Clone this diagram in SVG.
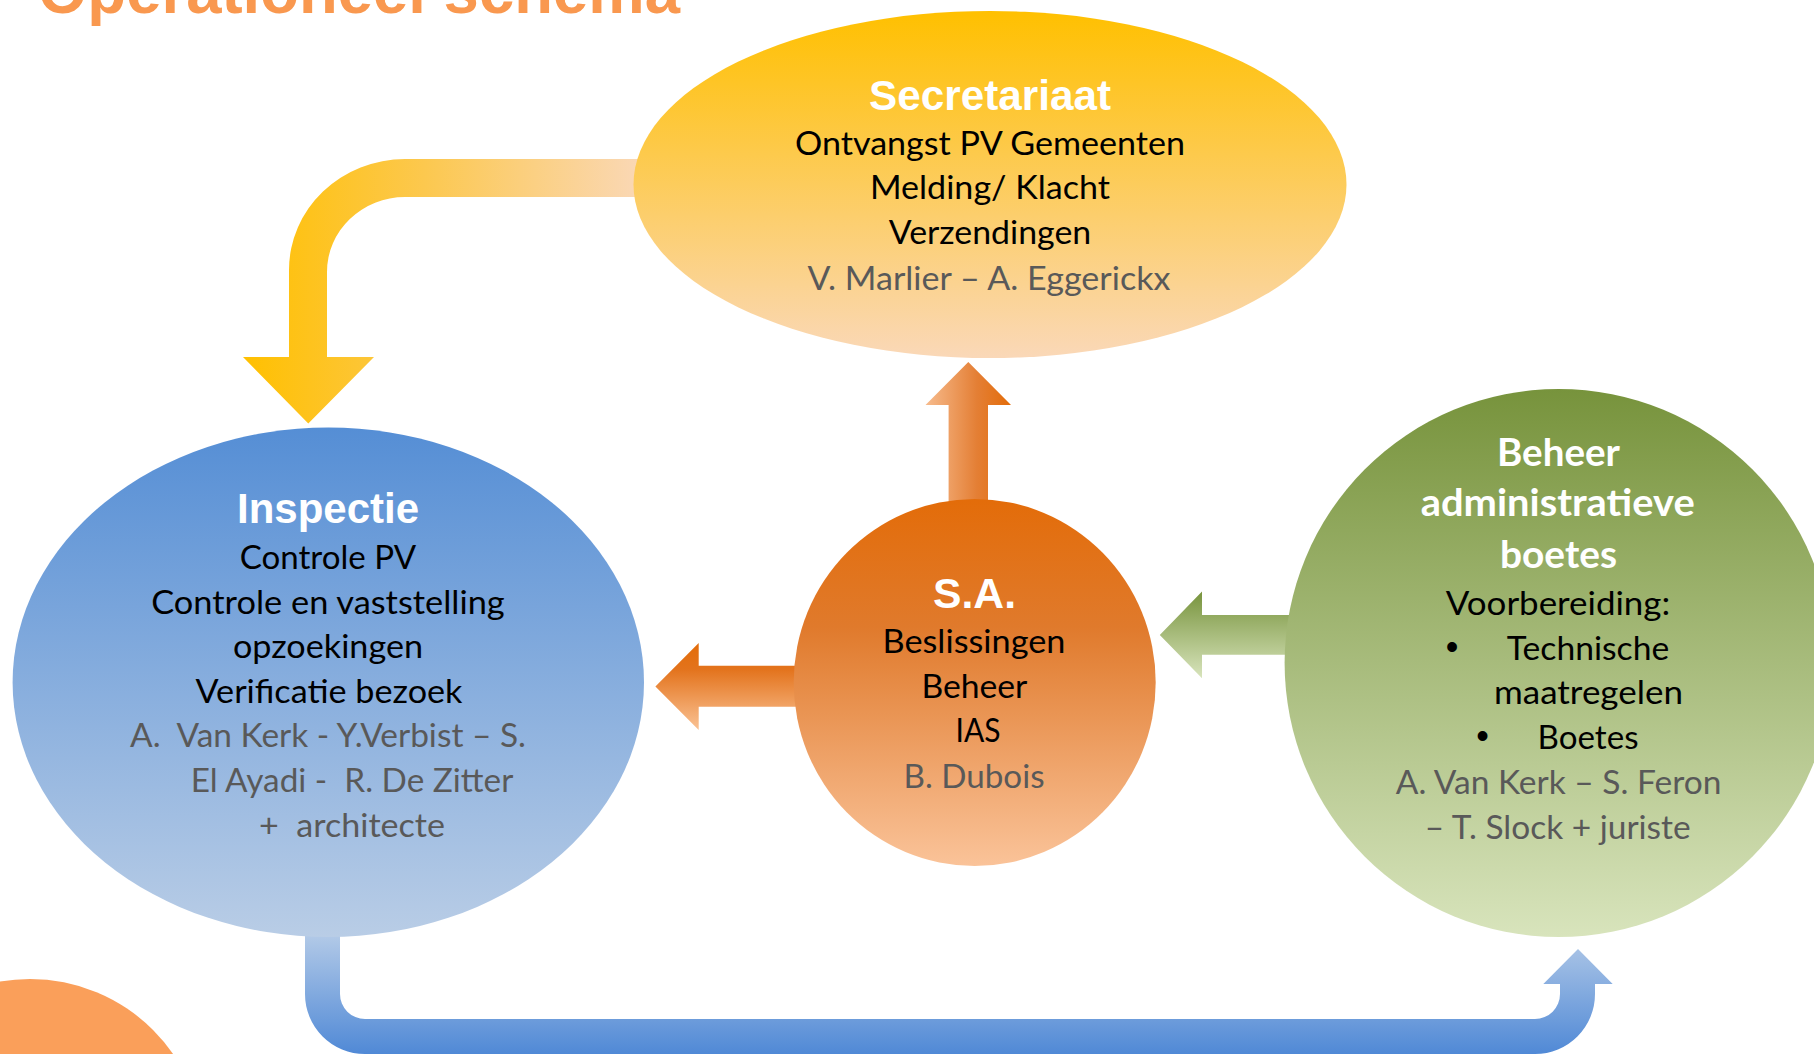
<svg xmlns="http://www.w3.org/2000/svg" width="1814" height="1054" viewBox="0 0 1814 1054">
<defs>
<linearGradient id="gSec" x1="0" y1="0" x2="0" y2="1"><stop offset="0" stop-color="#FFC000"/><stop offset="1" stop-color="#FAD8B8"/></linearGradient>
<linearGradient id="gIns" x1="0" y1="0" x2="0" y2="1"><stop offset="0" stop-color="#558ED5"/><stop offset="1" stop-color="#B9CDE6"/></linearGradient>
<linearGradient id="gSA" x1="0" y1="0" x2="0" y2="1"><stop offset="0" stop-color="#E36C09"/><stop offset="0.35" stop-color="#E07A2C"/><stop offset="1" stop-color="#FAC399"/></linearGradient>
<linearGradient id="gBeh" x1="0" y1="0" x2="0" y2="1"><stop offset="0" stop-color="#77933C"/><stop offset="1" stop-color="#D8E4BC"/></linearGradient>
<linearGradient id="aYel" gradientUnits="userSpaceOnUse" x1="243" y1="0" x2="645" y2="0"><stop offset="0" stop-color="#FFC000"/><stop offset="0.45" stop-color="#FCC84E"/><stop offset="1" stop-color="#FAD8B8"/></linearGradient>
<linearGradient id="aUp" gradientUnits="userSpaceOnUse" x1="925" y1="0" x2="1011" y2="0"><stop offset="0" stop-color="#F7BC8E"/><stop offset="0.6" stop-color="#E47F35"/><stop offset="1" stop-color="#E36C09"/></linearGradient>
<linearGradient id="aLeftO" gradientUnits="userSpaceOnUse" x1="0" y1="643" x2="0" y2="730"><stop offset="0" stop-color="#E36C09"/><stop offset="0.3" stop-color="#E3731C"/><stop offset="1" stop-color="#FAC294"/></linearGradient>
<linearGradient id="aLeftG" gradientUnits="userSpaceOnUse" x1="0" y1="591" x2="0" y2="678"><stop offset="0" stop-color="#77933C"/><stop offset="1" stop-color="#D8E4BC"/></linearGradient>
<linearGradient id="aBlue" gradientUnits="userSpaceOnUse" x1="0" y1="930" x2="0" y2="1054"><stop offset="0" stop-color="#B6CCE8"/><stop offset="1" stop-color="#5089D6"/></linearGradient>
</defs>
<style>
.h{font-family:"Liberation Sans",Arial,sans-serif;font-weight:bold;fill:#FFFFFF;font-size:42px;text-anchor:middle}
.hg{font-family:Lato,"Liberation Sans",sans-serif;font-weight:bold;fill:#FFFFFF;font-size:38px;text-anchor:middle}
.b{font-family:Lato,"Liberation Sans",sans-serif;fill:#000000;font-size:33px;text-anchor:middle}
.n{font-family:Lato,"Liberation Sans",sans-serif;fill:#595959;font-size:33px;text-anchor:middle;white-space:pre}
.bul{font-family:"Liberation Sans",Arial,sans-serif;fill:#000000;font-size:36px;text-anchor:middle}
</style>
<rect x="0" y="0" width="1814" height="1054" fill="#FFFFFF"/>
<g id="title">
<text x="38" y="13" font-family="Liberation Sans, Arial, sans-serif" font-weight="bold" font-size="64" fill="#F9984F" textLength="642" lengthAdjust="spacingAndGlyphs">Operationeel schema</text>
</g>
<g id="decor">
<circle cx="30" cy="1153" r="174" fill="#FA9F5A"/>
</g>
<g id="connectors">
<path d="M645,159 L405,159 A116,111 0 0 0 289,270 L289,357 L243,357 L308.3,423.5 L374,357 L327,357 L327,272 A78,75 0 0 1 405,197 L645,197 Z" fill="url(#aYel)"/>
<path d="M948.6,505 L948.6,405 L925.5,405 L968.3,362 L1011,405 L988,405 L988,505 Z" fill="url(#aUp)"/>
<path d="M800,665.8 L698.7,665.8 L698.7,643 L655.4,686.5 L698.7,730 L698.7,706.8 L800,706.8 Z" fill="url(#aLeftO)"/>
<path d="M1296,615 L1202,615 L1202,591.5 L1159.8,635 L1202,678.3 L1202,654.7 L1296,654.7 Z" fill="url(#aLeftG)"/>
<path d="M305,930 L305,994 A60,60 0 0 0 365,1054 L1535,1054 A60,60 0 0 0 1595,994 L1595,984 L1612.7,984 L1578,949 L1543.3,984 L1560,984 L1560,994 A25,25 0 0 1 1535,1019 L365,1019 A25,25 0 0 1 340,994 L340,930 Z" fill="url(#aBlue)"/>
</g>
<g id="secretariaat">
<ellipse cx="990" cy="184.5" rx="356.5" ry="173.5" fill="url(#gSec)"/>
<text class="h" x="990" y="110" textLength="242" lengthAdjust="spacingAndGlyphs">Secretariaat</text>
<text class="b" x="990" y="155" textLength="390" lengthAdjust="spacingAndGlyphs">Ontvangst PV Gemeenten</text>
<text class="b" x="990" y="199" textLength="240" lengthAdjust="spacingAndGlyphs">Melding/ Klacht</text>
<text class="b" x="990" y="244" textLength="202.5" lengthAdjust="spacingAndGlyphs">Verzendingen</text>
<text class="n" x="989" y="290" textLength="363" lengthAdjust="spacingAndGlyphs">V. Marlier – A. Eggerickx</text>
</g>
<g id="inspectie">
<ellipse cx="328.3" cy="682.3" rx="315.7" ry="254.7" fill="url(#gIns)"/>
<text class="h" x="328" y="523" textLength="182" lengthAdjust="spacingAndGlyphs">Inspectie</text>
<text class="b" x="328" y="569" textLength="176.5" lengthAdjust="spacingAndGlyphs">Controle PV</text>
<text class="b" x="328" y="614" textLength="353.5" lengthAdjust="spacingAndGlyphs">Controle en vaststelling</text>
<text class="b" x="328" y="658" textLength="190" lengthAdjust="spacingAndGlyphs">opzoekingen</text>
<text class="b" x="329" y="703" textLength="267" lengthAdjust="spacingAndGlyphs">Verificatie bezoek</text>
<text class="n" x="328" y="747" textLength="396" lengthAdjust="spacingAndGlyphs">A.  Van Kerk - Y.Verbist – S.</text>
<text class="n" x="352" y="792" textLength="322.6" lengthAdjust="spacingAndGlyphs">El Ayadi -  R. De Zitter</text>
<text class="n" x="352" y="837" textLength="186" lengthAdjust="spacingAndGlyphs">+  architecte</text>
</g>
<g id="sa">
<ellipse cx="974.7" cy="682.5" rx="181" ry="183.5" fill="url(#gSA)"/>
<text class="h" x="974.5" y="608" textLength="83" lengthAdjust="spacingAndGlyphs">S.A.</text>
<text class="b" x="974" y="653" textLength="183" lengthAdjust="spacingAndGlyphs">Beslissingen</text>
<text class="b" x="974.4" y="698" textLength="106" lengthAdjust="spacingAndGlyphs">Beheer</text>
<text class="b" x="978" y="742" textLength="45" lengthAdjust="spacingAndGlyphs">IAS</text>
<text class="n" x="974" y="788" textLength="141" lengthAdjust="spacingAndGlyphs">B. Dubois</text>
</g>
<g id="beheer">
<ellipse cx="1558.6" cy="663" rx="274" ry="274" fill="url(#gBeh)"/>
<text class="hg" x="1558.5" y="465.5" textLength="123" lengthAdjust="spacingAndGlyphs">Beheer</text>
<text class="hg" x="1557.7" y="516" textLength="274" lengthAdjust="spacingAndGlyphs">administratieve</text>
<text class="hg" x="1558.5" y="568" textLength="117" lengthAdjust="spacingAndGlyphs">boetes</text>
<text class="b" x="1558" y="615" textLength="224.5" lengthAdjust="spacingAndGlyphs">Voorbereiding:</text>
<text class="bul" x="1452" y="659">•</text>
<text class="b" x="1588" y="660" textLength="162.4" lengthAdjust="spacingAndGlyphs">Technische</text>
<text class="b" x="1588.5" y="703.5" textLength="189" lengthAdjust="spacingAndGlyphs">maatregelen</text>
<text class="bul" x="1482.5" y="748">•</text>
<text class="b" x="1588" y="749" textLength="101" lengthAdjust="spacingAndGlyphs">Boetes</text>
<text class="n" x="1558.6" y="794" textLength="325.6" lengthAdjust="spacingAndGlyphs">A. Van Kerk – S. Feron</text>
<text class="n" x="1557.7" y="839" textLength="266" lengthAdjust="spacingAndGlyphs">– T. Slock + juriste</text>
</g>
</svg>
